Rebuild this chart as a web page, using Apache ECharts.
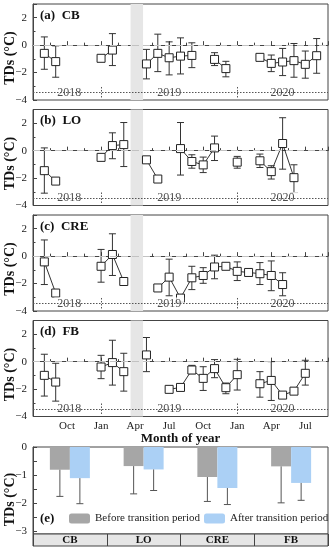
<!DOCTYPE html>
<html><head><meta charset="utf-8">
<script src="https://cdn.jsdelivr.net/npm/echarts@6/dist/echarts.min.js"></script>
<style>html,body{margin:0;padding:0;background:#fff}#c{width:333px;height:550px}</style>
</head><body><div id="c"></div>
<script>
// ---------- data ----------
const monthTickLabels = ['Oct','Jan','Apr','Jul','Oct','Jan','Apr','Jul']; // at months 3,6,...,24 (month 0 = Jul 2018)
const yearLabels = ['2018','2019','2020'];
const yearLabelMonth = [3.2, 12.0, 22.0];
const yearDivMonth = [6, 18];
const transitionBand = [8.6, 9.7];
const siteNames = ['CB','LO','CRE','FB'];
const panelLetters = ['(a)','(b)','(c)','(d)'];

const cbMonth = [1,2,6,7,10,11,12,13,14,16,17,20,21,22,23,24,25];
const cbMean  = [-0.60,-1.20,-0.96,-0.36,-1.37,-0.60,-0.92,-0.80,-0.75,-1.04,-1.71,-0.89,-1.33,-1.23,-1.13,-1.40,-0.77];
const cbUpper = [0.60,-0.05,null,0.84,-0.31,0.80,0.24,0.53,0.17,-0.55,-1.18,null,-0.72,-0.24,0.12,-0.43,0.48];
const cbLower = [-1.76,-2.34,null,-1.49,-2.46,-1.93,-2.17,-2.10,-1.64,-1.49,-2.31,null,-1.93,-2.22,-2.34,-2.41,-2.05];

const loMonth = [1,2,6,7,8,10,11,13,14,15,16,18,20,21,22,23];
const loMean  = [-1.46,-2.22,-0.49,0.37,0.44,-0.67,-2.07,0.15,-0.79,-1.04,0.20,-0.84,-0.74,-1.53,0.52,-1.97];
const loUpper = [0.20,null,null,1.30,2.05,null,null,2.05,-0.30,-0.47,1.06,-0.42,-0.25,-1.10,2.40,-1.03];
const loLower = [-3.10,null,null,-0.59,-1.16,null,null,-1.78,-1.28,-1.60,-0.72,-1.28,-1.23,-2.07,-1.35,-3.06];

const creMonth = [1,2,6,7,8,11,12,13,14,15,16,17,18,19,20,21,22];
const creMean  = [-0.42,-2.69,-0.74,0.12,-1.85,-2.32,-1.53,-3.06,-1.58,-1.41,-0.79,-0.74,-1.11,-1.19,-1.28,-1.41,-2.07];
const creUpper = [1.18,null,0.49,1.63,null,null,-0.22,null,-0.74,-0.84,0.07,null,-0.42,null,-0.47,-0.35,-1.21];
const creLower = [-2.07,null,-1.90,-1.41,null,null,-2.89,null,-2.44,-1.98,-1.65,null,-1.78,null,-2.07,-2.52,-2.89];

const fbMonth = [1,2,6,7,8,10,12,13,14,15,16,17,18,20,21,22,23,24];
const fbMean  = [-1.00,-1.49,-0.39,-0.07,-0.73,0.49,-2.02,-1.88,-0.61,-1.22,-0.51,-1.90,-0.95,-1.61,-1.37,-2.44,-2.15,-0.85];
const fbUpper = [0.54,-0.12,0.46,1.56,0.61,1.76,null,null,-0.27,-0.37,0.15,-1.56,0.17,-0.73,0.00,null,-1.90,0.10];
const fbLower = [-2.51,-2.88,-1.24,-1.71,-2.15,-0.73,null,null,-0.88,-2.10,-1.17,-2.34,-2.07,-2.59,-2.83,null,-2.37,-1.71];

const beforeMean  = [-0.81,-0.68,-1.07,-0.69];
const beforeLower = [-1.76,-1.67,-1.94,-1.99];
const afterMean   = [-1.11,-0.80,-1.46,-1.28];
const afterLower  = [-2.02,-1.55,-2.05,-1.90];

// ---------- layout / style ----------
const FONT = "'Liberation Serif', 'DejaVu Serif', serif";
const AX = '#444';
const gridTops = [4, 109.5, 215, 320.5];
const gridH = 96;
const L = 33, R = 5;

const sites = [
  {m: cbMonth, v: cbMean, hi: cbUpper, lo: cbLower},
  {m: loMonth, v: loMean, hi: loUpper, lo: loLower},
  {m: creMonth, v: creMean, hi: creUpper, lo: creLower},
  {m: fbMonth, v: fbMean, hi: fbUpper, lo: fbLower}
];

const fmtNeg = v => v < 0 ? '\u2212' + (-v) : String(v);

function lineData(s) {
  const out = [];
  for (let i = 0; i < s.m.length; i++) {
    if (i > 0 && s.m[i] - s.m[i-1] > 1) out.push('-');
    out.push([s.m[i], s.v[i]]);
  }
  return out;
}
function errData(s) {
  const out = [];
  for (let i = 0; i < s.m.length; i++) if (s.hi[i] !== null) out.push([s.m[i], s.hi[i], s.lo[i]]);
  return out;
}
function errRender(params, api) {
  const x = api.value(0);
  const a = api.coord([x, api.value(1)]), b = api.coord([x, api.value(2)]);
  const w = 3.5, st = {stroke: '#333', lineWidth: 1};
  return {type: 'group', children: [
    {type: 'line', shape: {x1: a[0], y1: a[1], x2: b[0], y2: b[1]}, style: st},
    {type: 'line', shape: {x1: a[0]-w, y1: a[1], x2: a[0]+w, y2: a[1]}, style: st},
    {type: 'line', shape: {x1: b[0]-w, y1: b[1], x2: b[0]+w, y2: b[1]}, style: st}
  ]};
}

const gridBase = {left: L, right: R, show: true, borderColor: AX, borderWidth: 1, containLabel: false, outerBoundsMode: 'none'};
const yName = {fontFamily: FONT, fontSize: 14, fontWeight: 'bold', color: '#111', padding: [0, 12, 0, 0]};
const grids = [], xAxes = [], yAxes = [], series = [], graphics = [];
for (let p = 0; p < 4; p++) {
  grids.push(Object.assign({}, gridBase, {top: gridTops[p], height: gridH}));
  xAxes.push({
    gridIndex: p, type: 'value', min: 0, max: 26, interval: 3,
    axisLine: {show: true, lineStyle: {color: AX}},
    axisTick: {show: true, inside: true, length: 4, lineStyle: {color: AX}},
    minorTick: {show: true, splitNumber: 2, length: 2.5, lineStyle: {color: AX}},
    splitLine: {show: false},
    axisLabel: {show: p === 3, margin: 4, fontFamily: FONT, fontSize: 11, color: '#222',
      formatter: v => (v > 0 && v % 3 === 0 && v / 3 - 1 < monthTickLabels.length) ? monthTickLabels[v/3 - 1] : ''},
    name: p === 3 ? 'Month of year' : '', nameLocation: 'middle', nameGap: 16, nameMoveOverlap: false,
    nameTextStyle: {fontFamily: FONT, fontSize: 13, fontWeight: 'bold', color: '#111'}
  });
  yAxes.push({
    gridIndex: p, type: 'value', min: -4, max: 3, interval: 2,
    axisLine: {show: true, lineStyle: {color: AX}},
    axisTick: {show: true, inside: true, length: 4, lineStyle: {color: AX}},
    minorTick: {show: true, splitNumber: 2, length: 2.5, lineStyle: {color: AX}},
    splitLine: {show: false},
    axisLabel: {margin: 6, fontFamily: FONT, fontSize: 11, color: '#222', showMaxLabel: false,
      formatter: v => (v === 3 ? '' : fmtNeg(v))},
    name: 'TDs (\u00B0C)', nameLocation: 'middle', nameGap: 16, nameMoveOverlap: false, nameTextStyle: yName
  });
  const s = sites[p];
  series.push({
    type: 'line', xAxisIndex: p, yAxisIndex: p, data: [], z: 1, silent: true,
    markArea: {silent: true, itemStyle: {color: '#e6e6e6'}, data: [[{xAxis: transitionBand[0]}, {xAxis: transitionBand[1]}]]},
    markLine: {silent: true, symbol: 'none', label: {show: false}, animation: false,
      data: [
        {yAxis: 0, lineStyle: {type: [7, 4], color: '#c2c2c2', width: 1.2}},
        {yAxis: -3.45, lineStyle: {type: [1.5, 1.5], color: '#555', width: 1}},
        [{coord: [yearDivMonth[0], -3.05], lineStyle: {type: [1.5, 1.5], color: '#555', width: 1}}, {coord: [yearDivMonth[0], -3.85]}],
        [{coord: [yearDivMonth[1], -3.05], lineStyle: {type: [1.5, 1.5], color: '#555', width: 1}}, {coord: [yearDivMonth[1], -3.85]}]
      ]}
  });
  series.push({
    type: 'scatter', xAxisIndex: p, yAxisIndex: p, z: 4, silent: true, symbolSize: 1,
    itemStyle: {color: 'rgba(0,0,0,0)'},
    data: yearLabels.map((t, i) => [yearLabelMonth[i], -3.45, t]),
    label: {show: true, position: 'inside', formatter: d => d.data[2], backgroundColor: '#fff', padding: [0, 3],
      fontFamily: FONT, fontSize: 12, color: '#222'}
  });
  series.push({
    type: 'custom', xAxisIndex: p, yAxisIndex: p, z: 2, silent: true,
    renderItem: errRender, encode: {x: 0, y: [1, 2]}, data: errData(s)
  });
  series.push({
    type: 'line', name: siteNames[p] + ' TDs', xAxisIndex: p, yAxisIndex: p, z: 3,
    data: lineData(s), connectNulls: false,
    symbol: 'rect', symbolSize: 8, showAllSymbol: true,
    lineStyle: {color: '#333', width: 1},
    itemStyle: {color: '#fff', borderColor: '#222', borderWidth: 1}
  });
  graphics.push({type: 'text', left: 40, top: gridTops[p] + 5,
    style: {text: panelLetters[p] + '  ' + siteNames[p], font: "bold 13px " + FONT, fill: '#111'}});
}

// panel (e)
grids.push(Object.assign({}, gridBase, {top: 447, height: 87}));
xAxes.push({gridIndex: 4, type: 'category', data: siteNames, show: false});
yAxes.push({
  gridIndex: 4, type: 'value', min: -3.1, max: 0,
  axisLine: {show: true, lineStyle: {color: AX}},
  axisTick: {show: true, inside: true, length: 4, lineStyle: {color: AX}, customValues: [0,-0.5,-1,-1.5,-2,-2.5,-3]},
  splitLine: {show: false},
  axisLabel: {margin: 6, fontFamily: FONT, fontSize: 11, color: '#222', formatter: fmtNeg, customValues: [0,-1,-2,-3]},
  name: 'TDs (\u00B0C)', nameLocation: 'middle', nameGap: 16, nameMoveOverlap: false,
  nameTextStyle: Object.assign({}, yName, {padding: [0, 18, 0, 0]})
});
// strip grid
grids.push(Object.assign({}, gridBase, {top: 534, height: 12, backgroundColor: '#e6e6e6'}));
xAxes.push({gridIndex: 5, type: 'category', data: siteNames, boundaryGap: true,
  axisLine: {show: false}, axisTick: {show: false},
  splitLine: {show: true, lineStyle: {color: AX, width: 1}},
  axisLabel: {inside: true, margin: 6, verticalAlign: 'middle', fontFamily: FONT, fontSize: 11, fontWeight: 'bold', color: '#111'}});
yAxes.push({gridIndex: 5, type: 'value', show: false});

function barErrRender(sign) {
  return function (params, api) {
    const c = api.value(0);
    const a = api.coord([c, api.value(1)]), b = api.coord([c, api.value(2)]);
    const x = a[0] + sign * 10, w = 3.5, st = {stroke: '#555', lineWidth: 1};
    return {type: 'group', children: [
      {type: 'line', shape: {x1: x, y1: a[1], x2: x, y2: b[1]}, style: st},
      {type: 'line', shape: {x1: x-w, y1: b[1], x2: x+w, y2: b[1]}, style: st}
    ]};
  };
}
series.push({type: 'bar', name: 'Before transition period', xAxisIndex: 4, yAxisIndex: 4,
  data: beforeMean, barWidth: 20, barGap: '0%', itemStyle: {color: '#a6a6a6'}, z: 2});
series.push({type: 'bar', name: 'After transition period', xAxisIndex: 4, yAxisIndex: 4,
  data: afterMean, barWidth: 20, barGap: '0%', itemStyle: {color: '#abd0f5'}, z: 2});
series.push({type: 'custom', xAxisIndex: 4, yAxisIndex: 4, z: 3, silent: true, renderItem: barErrRender(-1),
  encode: {x: 0, y: [1, 2]}, data: beforeMean.map((v, i) => [i, v, beforeLower[i]])});
series.push({type: 'custom', xAxisIndex: 4, yAxisIndex: 4, z: 3, silent: true, renderItem: barErrRender(1),
  encode: {x: 0, y: [1, 2]}, data: afterMean.map((v, i) => [i, v, afterLower[i]])});
series.push({type: 'bar', xAxisIndex: 5, yAxisIndex: 5, data: [], silent: true});

graphics.push({type: 'text', left: 40, top: 512, style: {text: '(e)', font: "bold 13px " + FONT, fill: '#111'}});

const legendText = {fontFamily: FONT, fontSize: 11, color: '#222'};
const chart = echarts.init(document.getElementById('c'), null, {renderer: 'canvas'});
chart.setOption({
  animation: false,
  backgroundColor: '#fff',
  grid: grids, xAxis: xAxes, yAxis: yAxes, series: series,
  legend: [
    {left: 69, top: 513, padding: 0, itemWidth: 21, itemHeight: 10, data: ['Before transition period'], textStyle: legendText, selectedMode: false},
    {left: 204, top: 513, padding: 0, itemWidth: 21, itemHeight: 10, data: ['After transition period'], textStyle: legendText, selectedMode: false}
  ],
  graphic: graphics
});
</script></body></html>
